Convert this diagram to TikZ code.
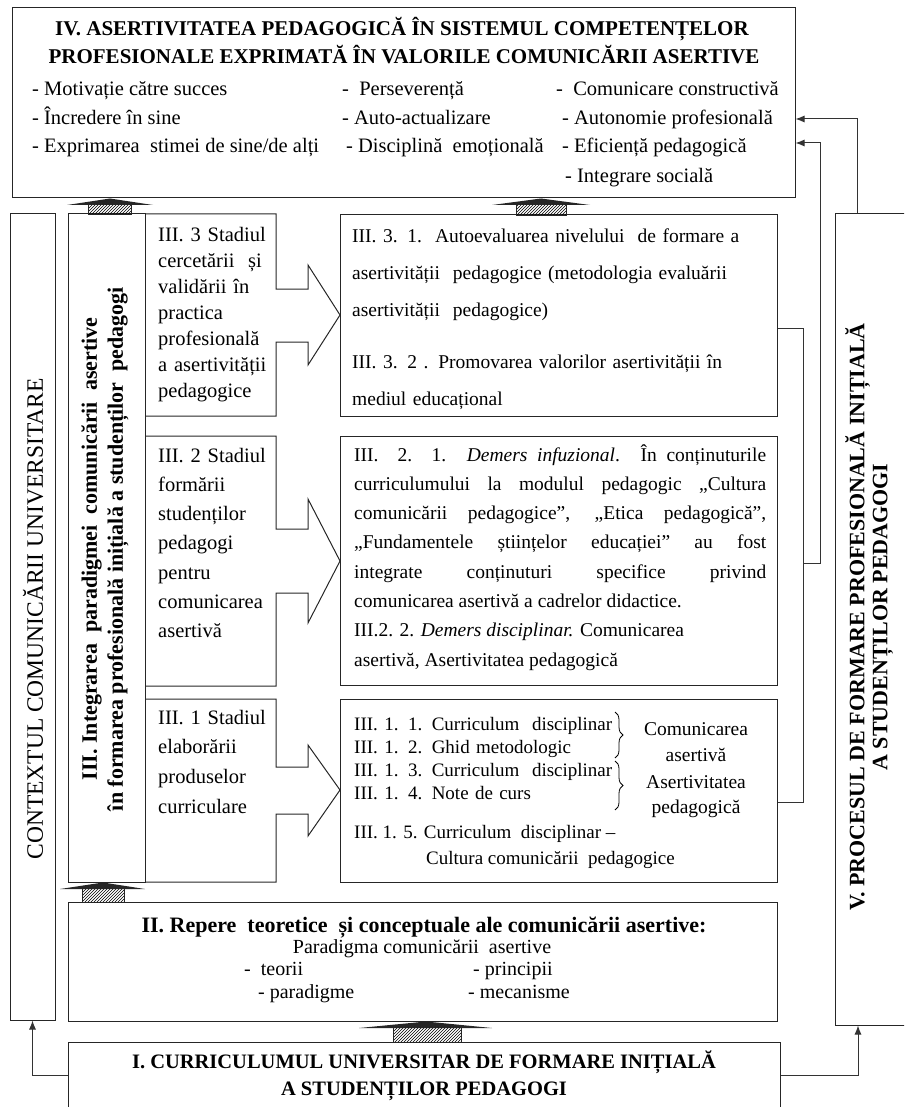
\documentclass[tikz,border=0pt]{standalone}
\usepackage{fontspec}
\setmainfont{Liberation Serif}
\usetikzlibrary{patterns, decorations.pathreplacing, arrows.meta}

\tikzset{
  box/.style={draw=black!85, line width=1pt, inner sep=0pt},
  stagebox/.style={draw=black!85, line width=1pt},
  wire/.style={draw=black!80, line width=1pt},
  tip/.style={-{Latex[length=9pt,width=7pt]}},
  hatchbar/.style={draw=black!85, line width=0.8pt, pattern=north east lines},
  hatchhead/.style={fill=black!85},
  txt/.style={inner sep=0pt, anchor=base west},
  item/.style={txt, font=\fontsize{20.5}{24}\selectfont},
}

\begin{document}
\begin{tikzpicture}[x=1pt, y=-1pt]
  \useasboundingbox (0,0) rectangle (904,1107);
  \clip (0,0) rectangle (904,1107);

  % main boxes
  \node[box, minimum width=783pt, minimum height=190pt] (topbox) at (403.5,103) {};
  \node[box, minimum width=45pt, minimum height=806pt] (ctxbox) at (32.5,617) {};
  \node[box, minimum width=77pt, minimum height=668pt] (iiibox) at (106.5,548) {};
  \node[box, minimum width=437pt, minimum height=201pt] (c33) at (558.5,315.5) {};
  \node[box, minimum width=437pt, minimum height=249pt] (c32) at (558.5,560.5) {};
  \node[box, minimum width=437pt, minimum height=183pt] (c31) at (558.5,790.5) {};
  \node[box, minimum width=709pt, minimum height=119pt] (iibox) at (422.5,961.5) {};
  \node[box, minimum width=712pt, minimum height=70pt] (ibox) at (424,1077) {};
  \node[box, minimum width=80pt, minimum height=811pt] (vbox) at (875,619.5) {};

  % stage boxes with their block arrows
  \draw[stagebox] (145,214) -- (276,214) -- (276,289) -- (308,289) -- (308,265)
    -- (340,315) -- (308,365) -- (308,342) -- (276,342) -- (276,416) -- (145,416);
  \draw[stagebox] (145,436) -- (276,436) -- (276,529) -- (308,529) -- (308,499)
    -- (340,561) -- (308,623) -- (308,593) -- (276,593) -- (276,686) -- (145,686);
  \draw[stagebox] (145,699) -- (276,699) -- (276,767) -- (308,767) -- (308,745)
    -- (340,790) -- (308,836) -- (308,814) -- (276,814) -- (276,882) -- (145,882);

  % hatched arrows
  \draw[hatchbar] (88,204) rectangle (131,214);
  \fill[hatchhead] (67,205) -- (110,198.5) -- (153,205) -- cycle;
  \draw[hatchbar] (516,204) rectangle (566,215);
  \fill[hatchhead] (492,205) -- (541,198.5) -- (590,205) -- cycle;
  \draw[hatchbar] (82,888) rectangle (124,902);
  \fill[hatchhead] (60,889) -- (103,882.5) -- (145,889) -- cycle;
  \draw[hatchbar] (393,1027) rectangle (461,1042);
  \fill[hatchhead] (359,1028) -- (426,1021.5) -- (492,1028) -- cycle;

  % IV
  \node[txt, anchor=base, font=\bfseries\fontsize{21}{28}\selectfont] (ivt1) at (402,36)
    {IV. ASERTIVITATEA PEDAGOGICĂ ÎN SISTEMUL COMPETENȚELOR};
  \node[txt, anchor=base, font=\bfseries\fontsize{21}{28}\selectfont] (ivt2) at (404,64)
    {PROFESIONALE EXPRIMATĂ ÎN VALORILE COMUNICĂRII ASERTIVE};
  \node[item] (v11) at (32,96) {- Motivație către succes};
  \node[item] (v12) at (342,96) {-\ \ Perseverență};
  \node[item] (v13) at (556,96) {-\ \ Comunicare constructivă};
  \node[item] (v21) at (32,125) {- Încredere în sine};
  \node[item] (v22) at (342,125) {- Auto-actualizare};
  \node[item] (v23) at (562,125) {- Autonomie profesională};
  \node[item] (v31) at (32,153) {- Exprimarea\ \ stimei de sine/de alți};
  \node[item] (v32) at (346,153) {- Disciplină\ \ emoțională};
  \node[item] (v33) at (562,153) {- Eficiență pedagogică};
  \node[item] (v43) at (565,183) {- Integrare socială};

  % side columns
  \node[rotate=90, font=\fontsize{23.5}{28}\selectfont] (ctxtxt) at (33,619)
    {CONTEXTUL COMUNICĂRII UNIVERSITARE};
  \node[rotate=90, align=center, font=\bfseries\fontsize{22}{26}\selectfont] (iiitxt) at (105,549)
    {III. Integrarea\ \ paradigmei\ \ comunicării\ \ asertive\\
     în formarea profesională inițială a studenților\ \ pedagogi};
  \node[rotate=90, align=center, font=\bfseries\fontsize{22}{23}\selectfont] (vtxt) at (869,617)
    {V. PROCESUL DE FORMARE PROFESIONALĂ INIȚIALĂ\\ A STUDENȚILOR PEDAGOGI};

  % stages
  \node[txt, text width=115pt, font=\fontsize{20.5}{26}\selectfont] (s3txt) at (158,241)
    {III. 3 Stadiul\\ cercetării\ \ și\\ validării în\\ practica\\ profesională\\ a asertivității\\ pedagogice};
  \node[txt, text width=115pt, font=\fontsize{20.5}{29.3}\selectfont] (s2txt) at (158,462)
    {III. 2 Stadiul\\ formării\\ studenților\\ pedagogi\\ pentru\\ comunicarea\\ asertivă};
  \node[txt, text width=115pt, font=\fontsize{20.5}{29.7}\selectfont] (s1txt) at (158,724)
    {III. 1 Stadiul\\ elaborării\\ produselor\\ curriculare};

  % III.3 content
  \node[txt, text width=420pt, font=\fontsize{19.5}{37}\selectfont] (c33txt) at (352,242)
    {III. 3. 1.\ \ Autoevaluarea nivelului\ \ de formare a\\
     asertivității\ \ pedagogice (metodologia evaluării\\
     asertivității\ \ pedagogice)\\[15pt]
     III. 3. 2 . Promovarea valorilor asertivității în\\
     mediul educațional};

  % III.2 content
  \node[txt, text width=412pt, align=justify, font=\fontsize{19.5}{29.3}\selectfont] (c32txt) at (354,461)
    {\hyphenpenalty=10000
     III.\ \ 2.\ \ 1. \textit{Demers infuzional}. În conținuturile\linebreak
     curriculumului la modulul pedagogic „Cultura\linebreak
     comunicării pedagogice”, „Etica pedagogică”,\linebreak
     „Fundamentele științelor educației” au fost\linebreak
     integrate conținuturi specifice privind\linebreak
     comunicarea asertivă a cadrelor didactice.\\
     III.2. 2. \textit{Demers disciplinar.} Comunicarea\\
     asertivă, Asertivitatea pedagogică};

  % III.1 content
  \node[txt, text width=270pt, font=\fontsize{19}{23.3}\selectfont] (c31txt) at (354,730)
    {III. 1. 1. Curriculum\ \ disciplinar\\ III. 1. 2. Ghid metodologic\\
     III. 1. 3. Curriculum\ \ disciplinar\\ III. 1. 4. Note de curs};
  \node[txt, font=\fontsize{19}{23}\selectfont] (c31txt5) at (354,838) {III. 1. 5. Curriculum\ \ disciplinar --};
  \node[txt, font=\fontsize{19}{23}\selectfont] (c31txt6) at (426,864) {Cultura comunicării\ \ pedagogice};
  \draw[black, line width=0.8pt, decorate, decoration={brace, amplitude=8pt}] (615,712) -- (615,758);
  \draw[black, line width=0.8pt, decorate, decoration={brace, amplitude=8pt}] (615,761) -- (615,810);
  \node[txt, anchor=base, text width=130pt, align=center, font=\fontsize{19.5}{26}\selectfont] (lab1) at (696,735)
    {Comunicarea\\ asertivă};
  \node[txt, anchor=base, text width=130pt, align=center, font=\fontsize{19.5}{25}\selectfont] (lab2) at (696,788)
    {Asertivitatea\\ pedagogică};

  % II
  \node[txt, anchor=base, font=\bfseries\fontsize{22}{22}\selectfont] (iit) at (424,932)
    {II. Repere\ \ teoretice\ \ și conceptuale ale comunicării asertive:};
  \node[txt, anchor=base, font=\fontsize{20}{22}\selectfont] (iipar) at (422,953) {Paradigma comunicării\ \ asertive};
  \node[txt, font=\fontsize{20}{22}\selectfont] (iiteo) at (244,975) {-\ \ teorii};
  \node[txt, font=\fontsize{20}{22}\selectfont] (iipri) at (473,975) {- principii};
  \node[txt, font=\fontsize{20}{22}\selectfont] (iipar2) at (258,998) {- paradigme};
  \node[txt, font=\fontsize{20}{22}\selectfont] (iimec) at (468,998) {- mecanisme};

  % I
  \node[txt, anchor=base, font=\bfseries\fontsize{20.5}{27}\selectfont] (it1) at (424,1068)
    {I. CURRICULUMUL UNIVERSITAR DE FORMARE INIȚIALĂ};
  \node[txt, anchor=base, font=\bfseries\fontsize{20.5}{27}\selectfont] (it2) at (424,1095)
    {A STUDENȚILOR PEDAGOGI};

  % connectors
  \draw[wire, tip] ([yshift=2pt]ibox.west) -| (ctxbox.south);
  \draw[wire, tip] ([yshift=2pt]ibox.east) -| ([xshift=-17pt]vbox.south);
  \draw[wire, tip] ([xshift=-18pt]vbox.north) |- ([yshift=-16pt]topbox.east);
  \draw[wire] ([yshift=-12.5pt]c33.east) -- ++(26,0) |- ([yshift=-11.5pt]c31.east);
  \coordinate (brmid) at (803,563);
  \draw[wire, tip] (brmid) -- ++(17,0) |- ([yshift=-40pt]topbox.east);
\end{tikzpicture}
\end{document}
